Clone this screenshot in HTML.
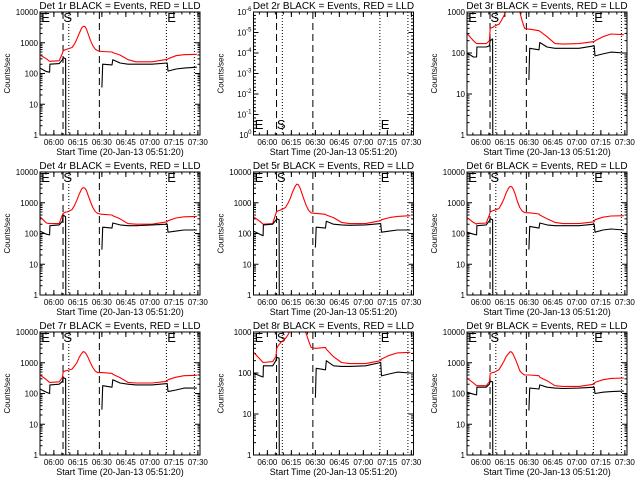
<!DOCTYPE html>
<html><head><meta charset="utf-8"><style>
html,body{margin:0;padding:0;background:#fff;}
svg{display:block;font-family:"Liberation Sans",sans-serif;}
</style></head><body>
<svg id="chart" width="640" height="480" viewBox="0 0 640 480" xmlns="http://www.w3.org/2000/svg">
<rect x="0" y="0" width="640" height="480" fill="#fff"/>
</svg>
<script>
// minutes since 05:51:20
const timesMin = [0,4,6,6.2,12,14,14.5,16,16.1,17,20,21.5,23,24.5,26,27,28,29,30,31.5,33,34.5,36,38.5,38.7,39.2,45,45.5,50,55,60,70,79.5,80,85,90,98];
const N = null;
const red1 = [400,300,250,250,260,450,550,600,600,620,700,900,1300,2000,3000,3400,3400,2800,2000,1200,800,620,550,520,520,520,500,480,400,280,240,240,290,300,380,410,420];
const black1 = [150,115,110,200,210,280,330,300,0.5,N,N,N,N,N,N,N,N,N,N,N,N,N,N,N,35,200,190,280,220,200,200,200,220,120,140,150,160];
const red3 = [300,200,170,170,170,200,400,420,420,450,500,620,800,1100,1500,1800,2000,1800,1500,1200,1000,600,400,380,380,380,350,340,250,170,165,170,190,200,250,290,280];
const black3 = [100,80,80,140,140,150,200,220,0.5,N,N,N,N,N,N,N,N,N,N,N,N,N,N,N,22,130,120,180,140,130,130,130,150,85,95,105,100];
const red4 = [350,220,210,210,210,400,450,500,500,500,600,800,1200,1900,2800,3100,3000,2500,1800,1100,700,520,450,420,420,420,400,380,300,210,200,200,240,260,320,350,360];
const black4 = [120,95,90,180,190,250,400,350,0.5,N,N,N,N,N,N,N,N,N,N,N,N,N,N,N,30,160,150,220,190,180,180,190,200,110,120,130,130];
const red5 = [350,250,200,200,210,450,520,560,560,580,700,950,1400,2300,3400,4000,3900,3100,2200,1300,800,560,470,450,450,450,420,400,330,230,210,210,260,280,330,360,380];
const black5 = [120,95,85,190,200,270,300,280,0.5,N,N,N,N,N,N,N,N,N,N,N,N,N,N,N,35,160,150,250,200,190,185,190,210,110,120,130,130];
const red6 = [330,230,200,210,220,400,500,550,550,570,650,900,1300,2100,3000,3400,3300,2700,2000,1100,700,540,480,470,470,470,430,400,300,230,210,210,240,280,340,370,380];
const black6 = [110,95,90,180,190,260,300,280,0.5,N,N,N,N,N,N,N,N,N,N,N,N,N,N,N,30,170,150,220,190,180,180,180,200,110,130,140,130];
const red7 = [400,280,230,230,240,330,500,550,550,560,620,780,1000,1500,2000,2300,2200,1900,1500,1000,700,540,480,480,480,480,450,420,330,230,220,220,250,280,340,380,390];
const black7 = [140,110,100,190,200,250,330,300,0.5,N,N,N,N,N,N,N,N,N,N,N,N,N,N,N,30,180,160,280,220,200,190,190,210,115,130,150,150];
const red8 = [320,220,180,180,190,250,400,500,500,550,700,850,1100,1500,1800,2000,2000,1800,1500,1200,900,600,420,400,400,400,420,380,250,180,170,170,200,220,270,310,320];
const black8 = [100,85,80,150,150,200,240,230,0.5,N,N,N,N,N,N,N,N,N,N,N,N,N,N,N,25,130,120,200,150,145,145,150,180,85,95,105,100];
const red9 = [320,220,180,180,180,240,450,480,480,490,600,800,1100,1600,2000,2300,2200,1800,1400,900,550,450,400,400,400,400,380,340,260,180,170,170,200,230,280,310,320];
const black9 = [110,95,90,160,160,200,250,240,0.5,N,N,N,N,N,N,N,N,N,N,N,N,N,N,N,28,150,140,190,160,150,145,150,160,100,110,115,120];
const xTickLabels = ["06:00","06:15","06:30","06:45","07:00","07:15","07:30"];
const xTickMin = [8.667,23.667,38.667,53.667,68.667,83.667,98.667];
const dashedMin = [14.4,37.1];
const dottedMin = [18,79,96.5];

const panels = [
 {det:"1r",red:red1,black:black1,dec:4},
 {det:"2r",red:null,black:null,dec:-1},
 {det:"3r",red:red3,black:black3,dec:3},
 {det:"4r",red:red4,black:black4,dec:4},
 {det:"5r",red:red5,black:black5,dec:4},
 {det:"6r",red:red6,black:black6,dec:4},
 {det:"7r",red:red7,black:black7,dec:4},
 {det:"8r",red:red8,black:black8,dec:3},
 {det:"9r",red:red9,black:black9,dec:4}
];
const NS="http://www.w3.org/2000/svg";
const svg=document.getElementById('chart');
function mk(tag,attrs,parent){const e=document.createElementNS(NS,tag);for(const k in attrs)e.setAttribute(k,attrs[k]);parent.appendChild(e);return e;}

panels.forEach((p,i)=>{
  const col=i%3,row=Math.floor(i/3);
  const L=40+col*213.5, R=L+160, T=12+row*160, B=135+row*160;
  const g=mk('g',{},svg);
  
  
  const xs=t=>L+t*1.6;
  let ys;
  if(p.dec>0){ ys=v=>B-(Math.log10(v))*(B-T)/p.dec; }
  const clipId='clip'+i;
  const cp=mk('clipPath',{id:clipId},g); mk('rect',{x:L,y:T,width:160,height:B-T},cp);
  const tt=mk('text',{x:(L+R)/2,y:T-3,'text-anchor':'middle','font-size':'10'},g);
  tt.textContent='Det '+p.det+' BLACK = Events, RED = LLD';
  
  
  const yt=mk('text',{x:0,y:0,'text-anchor':'middle','font-size':'8',transform:`translate(${L-30},${(T+B)/2}) rotate(-90)`},g);
  yt.textContent='Counts/sec';
  
  
  const xt=mk('text',{x:(L+R)/2,y:B+20,'text-anchor':'middle','font-size':'9'},g);
  xt.textContent='Start Time (20-Jan-13 05:51:20)';
  
  
  xTickMin.forEach((m,k)=>{
    const x=xs(m);
    mk('line',{x1:x,x2:x,y1:B,y2:B-5,stroke:'#000'},g);
    mk('line',{x1:x,x2:x,y1:T,y2:T+5,stroke:'#000'},g);
    const lb=mk('text',{x:x,y:B+10,'text-anchor':'middle','font-size':'8'},g);
    lb.textContent=xTickLabels[k];
    
    
  });
  for(let m=3.667;m<100;m+=5){const x=xs(m);
    mk('line',{x1:x,x2:x,y1:B,y2:B-2.5,stroke:'#000'},g);
    mk('line',{x1:x,x2:x,y1:T,y2:T+2.5,stroke:'#000'},g);}
  if(p.dec>0){
    for(let d=0;d<=p.dec;d++){
      const y=ys(Math.pow(10,d));
      mk('line',{x1:L,x2:L+5,y1:y,y2:y,stroke:'#000'},g);
      mk('line',{x1:R,x2:R-5,y1:y,y2:y,stroke:'#000'},g);
      const lb=mk('text',{x:L-2,y:y+3,'text-anchor':'end','font-size':'8'},g);
      lb.textContent=String(Math.pow(10,d));
      
      
      if(d<p.dec)for(let m=2;m<10;m++){const yy=ys(m*Math.pow(10,d));
        mk('line',{x1:L,x2:L+2.5,y1:yy,y2:yy,stroke:'#000'},g);
        mk('line',{x1:R,x2:R-2.5,y1:yy,y2:yy,stroke:'#000'},g);}
    }
  } else {
    for(let d=0;d<=6;d++){
      const y=B-d*(B-T)/6;
      mk('line',{x1:L,x2:L+5,y1:y,y2:y,stroke:'#000'},g);
      mk('line',{x1:R,x2:R-5,y1:y,y2:y,stroke:'#000'},g);
      for(let m=1;m<6&&d<6;m++){const yy=y-m*(B-T)/36;
        mk('line',{x1:L,x2:L+2.5,y1:yy,y2:yy,stroke:'#000'},g);
        mk('line',{x1:R,x2:R-2.5,y1:yy,y2:yy,stroke:'#000'},g);}
      const lb=mk('text',{x:L-2,y:y+3,'text-anchor':'end','font-size':'8'},g);
      
      
      lb.appendChild(document.createTextNode('10'));
      const sp=mk('tspan',{dy:'-4','font-size':'6'},lb);
      sp.textContent=d===0?'0':'-'+d;
    }
  }
  dashedMin.forEach(m=>{const l=mk('line',{x1:xs(m),x2:xs(m),y1:T,y2:B,stroke:'#000','stroke-dasharray':'7,4'},g);
    
    });
  dottedMin.forEach(m=>{const l=mk('line',{x1:xs(m),x2:xs(m),y1:T,y2:B,stroke:'#000','stroke-dasharray':'1,2'},g);
    
    });
  const ly=p.dec>0?T+10:B-6;
  [['E',0.8],['S',14.6],['E',79.5]].forEach(([c,m])=>{
    const t=mk('text',{x:xs(m),y:ly,'font-size':'13'},g);t.textContent=c;
    
    
  });
  const draw=(arr,color,name)=>{
    if(!arr)return;
    let d='',pen=false;
    arr.forEach((v,k)=>{
      if(v===null){pen=false;return;}
      d+=(pen?'L':'M')+xs(timesMin[k]).toFixed(1)+','+ys(v).toFixed(1);pen=true;
    });
    const pth=mk('path',{d:d,fill:'none',stroke:color,'stroke-width':'1.1','stroke-linejoin':'round','clip-path':`url(#${clipId})`},g);
    
    
  };
  draw(p.red,'#ff0000','lld-series-red');
  draw(p.black,'#000000','events-series-black');
  const box=mk('rect',{x:L,y:T,width:160,height:B-T,fill:'none',stroke:'#000'},g);
  
  
});
</script>
</body></html>
